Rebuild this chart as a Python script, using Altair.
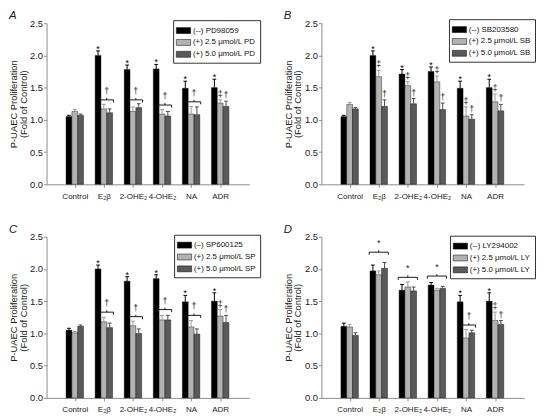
import json
import altair as alt
import pandas as pd

GROUPS = ["Control", "E₂β", "2-OHE₂", "4-OHE₂", "NA", "ADR"]
COLORS = ["#000000", "#b2b2b2", "#5a5a5a"]
ERR_COLORS = ["#000000", "#9a9a9a", "#4a4a4a"]

# ---------------- Panel A : PD98059 ----------------
A_LABELS = ["(--) PD98059", "(+) 2.5 μmol/L PD", "(+) 5.0 μmol/L PD"]
A_MEAN = [
    [1.05, 2.00, 1.78, 1.79, 1.49, 1.50],
    [1.13, 1.17, 1.13, 1.09, 1.09, 1.26],
    [1.07, 1.11, 1.19, 1.06, 1.08, 1.21],
]
A_TOP = [
    [1.07, 2.07, 1.85, 1.86, 1.60, 1.63],
    [1.16, 1.24, 1.20, 1.16, 1.21, 1.31],
    [1.09, 1.17, 1.25, 1.13, 1.20, 1.29],
]
A_STARS = ["E₂β", "2-OHE₂", "4-OHE₂", "NA", "ADR"]
A_BRACKETS = [("E₂β", 1, 2, 1.31, "†"), ("2-OHE₂", 1, 2, 1.31, "†"),
              ("4-OHE₂", 1, 2, 1.23, "†"), ("NA", 1, 2, 1.28, "†")]
A_MARKS = [("ADR", 1, "‡"), ("ADR", 2, "†")]

# ---------------- Panel B : SB203580 ----------------
B_LABELS = ["(--) SB203580", "(+) 2.5 μmol/L SB", "(+) 5.0 μmol/L SB"]
B_MEAN = [
    [1.05, 2.00, 1.71, 1.75, 1.49, 1.50],
    [1.24, 1.67, 1.53, 1.59, 1.06, 1.28],
    [1.17, 1.21, 1.25, 1.16, 1.01, 1.14],
]
B_TOP = [
    [1.07, 2.07, 1.78, 1.82, 1.60, 1.63],
    [1.27, 1.77, 1.59, 1.68, 1.20, 1.40],
    [1.19, 1.31, 1.33, 1.26, 1.08, 1.24],
]
B_STARS = ["E₂β", "2-OHE₂", "4-OHE₂", "NA", "ADR"]
B_BRACKETS = []
B_MARKS = [(g, 1, "‡") for g in GROUPS[1:]] + [(g, 2, "†") for g in GROUPS[1:]]

# ---------------- Panel C : SP600125 ----------------
C_LABELS = ["(–) SP600125", "(+) 2.5 μmol/L SP", "(+) 5.0 μmol/L SP"]
C_MEAN = [
    [1.05, 2.00, 1.81, 1.85, 1.49, 1.50],
    [1.01, 1.18, 1.12, 1.21, 1.10, 1.27],
    [1.11, 1.09, 1.00, 1.21, 0.99, 1.17],
]
C_TOP = [
    [1.08, 2.06, 1.88, 1.91, 1.59, 1.63],
    [1.03, 1.25, 1.19, 1.28, 1.20, 1.37],
    [1.13, 1.16, 1.07, 1.28, 1.07, 1.28],
]
C_STARS = ["E₂β", "2-OHE₂", "4-OHE₂", "NA", "ADR"]
C_BRACKETS = [("E₂β", 1, 2, 1.33, "†"), ("2-OHE₂", 1, 2, 1.26, "†"),
              ("4-OHE₂", 1, 2, 1.37, "†"), ("NA", 1, 2, 1.28, "†")]
C_MARKS = [("ADR", 1, "‡"), ("ADR", 2, "†")]

# ---------------- Panel D : LY294002 ----------------
D_LABELS = ["(--) LY294002", "(+) 2.5 μmol/L LY", "(+) 5.0 μmol/L LY"]
D_MEAN = [
    [1.11, 1.97, 1.67, 1.75, 1.49, 1.50],
    [1.10, 1.91, 1.72, 1.67, 0.93, 1.20],
    [0.97, 2.01, 1.66, 1.70, 1.01, 1.14],
]
D_TOP = [
    [1.16, 2.06, 1.76, 1.79, 1.59, 1.63],
    [1.14, 1.97, 1.80, 1.70, 1.06, 1.33],
    [1.01, 2.10, 1.72, 1.73, 1.05, 1.20],
]
D_STARS = ["NA", "ADR"]
D_BRACKETS = [("E₂β", 0, 2, 2.26, "*"), ("2-OHE₂", 0, 2, 1.87, "*"),
              ("4-OHE₂", 0, 2, 1.89, "*"), ("NA", 1, 2, 1.13, "†")]
D_MARKS = [("ADR", 1, "‡"), ("ADR", 2, "†")]

Y_TICKS = [0, 0.5, 1.0, 1.5, 2.0, 2.5]

FONT = "Liberation Sans"
INK = "#1a1a1a"
LABEL_EXPR = json.dumps(GROUPS, ensure_ascii=False) + "[datum.value]"


def panel(letter, labels, means, tops, stars, brackets, marks, lx, ly):
    rows = []
    for si in range(3):
        for gi, g in enumerate(GROUPS):
            rows.append(dict(group=g, gi=gi, si=si, series=labels[si],
                             value=means[si][gi], top=tops[si][gi]))
    bars = pd.DataFrame(rows)
    star_df = bars[(bars.si == 0) & bars.group.isin(stars)]
    mark_rows = []
    for g, si, sym in marks:
        r = bars[(bars.group == g) & (bars.si == si)].iloc[0]
        mark_rows.append(dict(gi=int(r.gi), si=si, top=float(r.top), sym=sym))
    mark_df = pd.DataFrame(mark_rows, columns=["gi", "si", "top", "sym"])
    br_df = pd.DataFrame(
        [dict(gi=GROUPS.index(g), s0=s0, s1=s1, by=y, sym=sym) for g, s0, s1, y, sym in brackets],
        columns=["gi", "s0", "s1", "by", "sym"])

    xscale = alt.Scale(domain=[-0.97, 6.0], nice=False, zero=False)
    yscale = alt.Scale(domain=[0, 2.5], nice=False, zero=True)
    xaxis = alt.Axis(values=list(range(len(GROUPS))), tickCount=len(GROUPS),
                     labelExpr=LABEL_EXPR, title=None,
                     tickSize=3, labelPadding=5, labelFontSize=8.1, grid=False,
                     labelAngle=0, labelOverlap=False)
    yaxis = alt.Axis(values=Y_TICKS, tickCount=len(Y_TICKS), format=".1f",
                     title=["P-UAEC Proliferation", "(Fold of Control)"],
                     tickSize=3, labelPadding=1, labelFontSize=9.5, grid=False,
                     labelOverlap=False,
                     titleFontSize=9.5, titleFontWeight="normal", titleLineHeight=10,
                     titlePadding=1.5)

    def with_pos(ch):
        return ch.transform_calculate(
            xc="datum.gi + (datum.si - 1) * 0.2"
        ).transform_calculate(
            xl="datum.xc - 0.1", xr="datum.xc + 0.1",
            cl="datum.xc - 0.065", cr="datum.xc + 0.065")

    b = with_pos(alt.Chart(bars))
    bar_layer = b.mark_bar(stroke="#000000", strokeWidth=0.4).encode(
        x=alt.X("xl:Q", scale=xscale, axis=xaxis),
        x2="xr:Q",
        y=alt.Y("value:Q", scale=yscale, axis=yaxis),
        y2=alt.datum(0),
        color=alt.Color("series:N", scale=alt.Scale(domain=labels, range=COLORS),
                        legend=alt.Legend(
                            title=None, orient="none", legendX=lx, legendY=ly,
                            symbolType="M-1.2,-0.5H1.2V0.5H-1.2Z", symbolSize=144,
                            symbolStrokeColor="#000000", symbolStrokeWidth=0.5,
                            symbolOpacity=1, labelFontSize=8, labelOffset=3,
                            labelFont=FONT, labelColor="#111111",
                            padding=4, rowPadding=1, strokeColor="#333333")),
    )
    err_stroke = alt.Stroke("si:N", scale=alt.Scale(domain=[0, 1, 2], range=ERR_COLORS), legend=None)
    err_layer = b.mark_rule(strokeWidth=1).encode(
        x="xc:Q", y="value:Q", y2="top:Q", stroke=err_stroke)
    cap_layer = b.mark_rule(strokeWidth=1).encode(
        x="cl:Q", x2="cr:Q", y="top:Q", stroke=err_stroke)

    letter_layer = alt.Chart(pd.DataFrame({"panel": [letter]})).mark_text(
        align="left", baseline="alphabetic", fontStyle="italic", fontSize=11.5, font=FONT
    ).encode(text="panel:N", x=alt.value(-38), y=alt.value(-4), color=alt.value(INK))

    layers = [bar_layer, err_layer, cap_layer, letter_layer]

    if len(star_df):
        layers.append(with_pos(alt.Chart(star_df)).mark_text(
            fontSize=9, font=FONT, baseline="alphabetic", dy=1
        ).encode(x="xc:Q", y="top:Q", text=alt.value("*"), color=alt.value("#000000")))

    if len(mark_df):
        layers.append(with_pos(alt.Chart(mark_df)).mark_text(
            fontSize=9, font=FONT, baseline="alphabetic", dy=-3
        ).encode(x="xc:Q", y="top:Q", text="sym:N", color=alt.value(INK)))

    if len(br_df):
        bb = alt.Chart(br_df).transform_calculate(
            bl="datum.gi + (datum.s0 - 1) * 0.2 - 0.13",
            br="datum.gi + (datum.s1 - 1) * 0.2 + 0.13",
            ylo="datum.by - 0.04", yhi="datum.by + 0.03",
        ).transform_calculate(bc="(datum.bl + datum.br) / 2")
        ink = alt.value(INK)
        layers += [
            bb.mark_rule(strokeWidth=1).encode(x="bl:Q", x2="br:Q", y="by:Q", color=ink),
            bb.mark_rule(strokeWidth=1).encode(x="bl:Q", y="by:Q", y2="ylo:Q", color=ink),
            bb.mark_rule(strokeWidth=1).encode(x="br:Q", y="by:Q", y2="ylo:Q", color=ink),
            bb.mark_rule(strokeWidth=1).encode(x="bc:Q", y="by:Q", y2="yhi:Q", color=ink),
            bb.mark_text(fontSize=9, font=FONT, baseline="alphabetic", dy=-4
                         ).encode(x="bc:Q", y="yhi:Q", text="sym:N", color=ink),
        ]

    return alt.layer(*layers).properties(width=205, height=163)


pA = panel("A", A_LABELS, A_MEAN, A_TOP, A_STARS, A_BRACKETS, A_MARKS, 128, -3)
pB = panel("B", B_LABELS, B_MEAN, B_TOP, B_STARS, B_BRACKETS, B_MARKS, 129, -4)
pC = panel("C", C_LABELS, C_MEAN, C_TOP, C_STARS, C_BRACKETS, C_MARKS, 129, -2)
pD = panel("D", D_LABELS, D_MEAN, D_TOP, D_STARS, D_BRACKETS, D_MARKS, 130, -1)

chart = alt.concat(pA, pB, pC, pD, columns=2, spacing={"row": 23, "column": 22}).resolve_scale(
    color="independent"
).properties(padding=0).configure_view(stroke=None).configure_axis(
    domainColor="#8c8c8c", tickColor="#8c8c8c", labelColor="#222222", titleColor="#222222",
    labelFont=FONT, titleFont=FONT,
).configure_text(font=FONT)

chart.save("out.html", embed_options={"renderer": "svg", "actions": False})
